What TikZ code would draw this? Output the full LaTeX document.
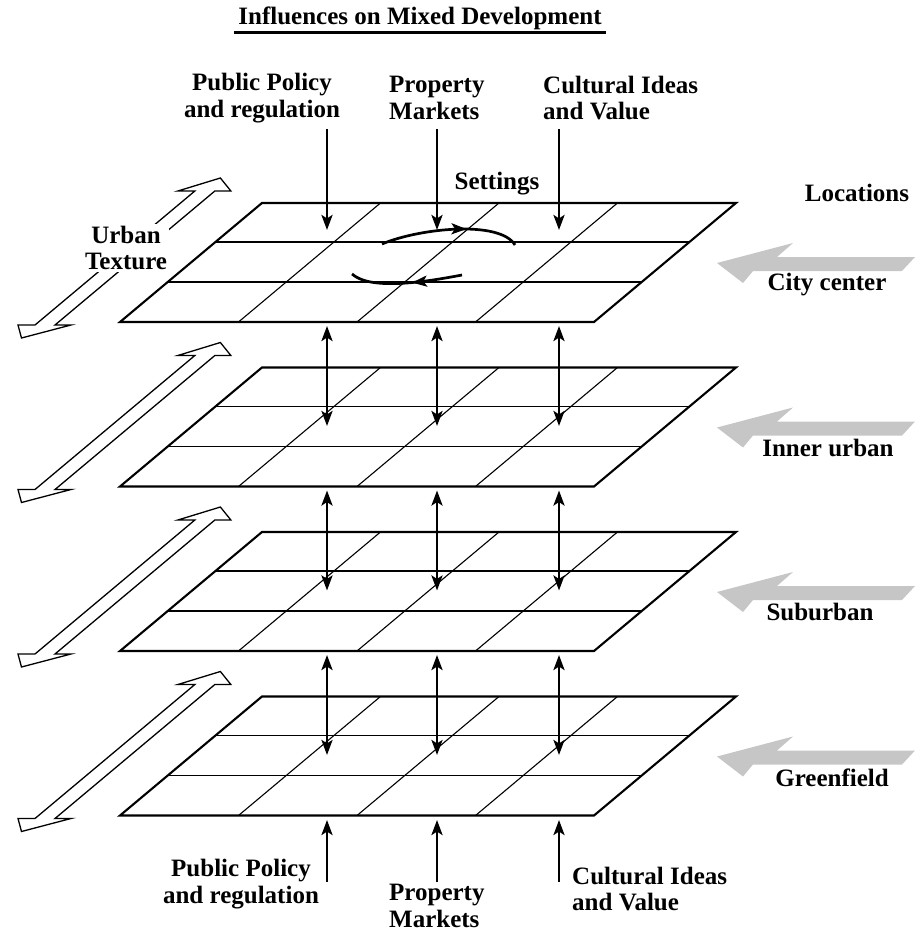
\documentclass[tikz,border=0pt]{standalone}
\usepackage{fontspec}
\setmainfont{Liberation Serif}
\usetikzlibrary{arrows.meta,decorations.markings}
\tikzset{headtip/.tip={Stealth[length=15pt,width=11pt,inset=3.5pt]}}
\begin{document}
\begin{tikzpicture}[x=1pt,y=-1pt,
  lbl/.style={font=\bfseries\fontsize{25}{26.5}\selectfont, inner sep=0pt},
  edge/.style={line width=2.1pt, line join=miter},
  rowline/.style={line width=1.7pt},
  colline/.style={line width=1.1pt},
  flow/.style={line width=2.7pt, -headtip},
  flowboth/.style={line width=2.7pt, headtip-headtip},
  swirl/.style={line width=2.7pt, postaction={decorate}},
  hollow/.style={line width=1.3pt, fill=white, line join=miter},
  shade/.style={fill=gray!45}
]
\useasboundingbox (0,0) rectangle (923,933);

% title
\node[lbl] (title) at (420,18) {Influences on Mixed Development};
\path (title.south west) ++(-4,3) coordinate (ul1) (title.south east) ++(4,3) coordinate (ul2);
\draw[line width=2.4pt] (ul1) -- (ul2);

% four layers of the grid, each a sheared 4x3 mesh
\foreach \k in {0,1,2,3}{
  \pgfmathsetmacro{\B}{322+164.5*\k}
  \begin{scope}[shift={(120,\B)}, xslant=1.193]
    \foreach \j in {1,2,3} \draw[colline] (118.5*\j,0) -- (118.5*\j,-119);
    \draw[rowline] (0,-40) -- (474,-40) (0,-80) -- (474,-80);
    \draw[edge] (0,0) -- (474,0) -- (474,-119) -- (0,-119) -- cycle;
  \end{scope}
  % urban texture double arrow lying in the layer
  \pgfmathsetmacro{\A}{325+164.5*\k}
  \begin{scope}[shift={(45,\A)}, xslant=1.193]
    \draw[hollow] (-8,13) -- (-27,0) -- (-10,0) -- (-10,-134) -- (-27,-134)
      -- (0,-147) -- (26,-134) -- (10,-134) -- (10,0) -- (26,0) -- cycle;
  \end{scope}
  % location arrow
  \pgfmathsetmacro{\G}{263+164.5*\k}
  \begin{scope}[shift={(717,\G)}]
    \fill[shade] (0,0) -- (76,-20) -- (60,-6) -- (198,-6) -- (185,8) -- (36,8) -- (26,20) -- cycle;
  \end{scope}
}

% labels beside the layers
\node[lbl] (loc) at (857,193) {Locations};
\node[lbl] (l0) at (827,285) {City center};
\node[lbl] (l1) at (828,448) {Inner urban};
\node[lbl] (l2) at (820,612) {Suburban};
\node[lbl] (l3) at (832,778) {Greenfield};
\node[lbl, fill=white, inner sep=2pt, align=center] (tex) at (126,248) {Urban\\Texture};
\node[lbl] (set) at (497,184) {Settings};

% influences from above
\node[lbl, align=center] (pp) at (262,98) {Public Policy\\and regulation};
\node[lbl, align=left, anchor=west] (pm) at (389,98) {Property\\Markets};
\node[lbl, align=left, anchor=west] (cv) at (543,98) {Cultural Ideas\\and Value};

\foreach \x [count=\i] in {327,437,559}{
  \coordinate (ts\i) at (\x,129);
  \coordinate (te\i) at (\x,230);
  \draw[flow] (ts\i) -- (te\i);
  \foreach \k in {0,1,2}{
    \pgfmathsetmacro{\U}{326+164.5*\k}
    \pgfmathsetmacro{\V}{426+164.5*\k}
    \coordinate (da\i\k) at (\x,\U);
    \coordinate (db\i\k) at (\x,\V);
    \draw[flowboth] (da\i\k) -- (db\i\k);
  }
  \coordinate (bs\i) at (\x,882);
  \coordinate (be\i) at (\x,820);
  \draw[flow] (bs\i) -- (be\i);
}

% influences from below
\node[lbl, align=center] (pp2) at (241,884) {Public Policy\\and regulation};
\node[lbl, align=left, anchor=west] (pm2) at (389,906) {Property\\Markets};
\node[lbl, align=left, anchor=west] (cv2) at (572,889) {Cultural Ideas\\and Value};

% circulation within the settings
\coordinate (c1a) at (382,244);
\coordinate (c1b) at (515,245);
\coordinate (c2a) at (462,275);
\coordinate (c2b) at (352,274);
\draw[swirl, decoration={markings, mark=at position 0.62 with {\arrow{headtip}}}]
  (c1a) .. controls (420,228) and (500,220) .. (c1b);
\draw[swirl, decoration={markings, mark=at position 0.45 with {\arrow{headtip}}}]
  (c2a) .. controls (420,283) and (370,290) .. (c2b);
\end{tikzpicture}
\end{document}
